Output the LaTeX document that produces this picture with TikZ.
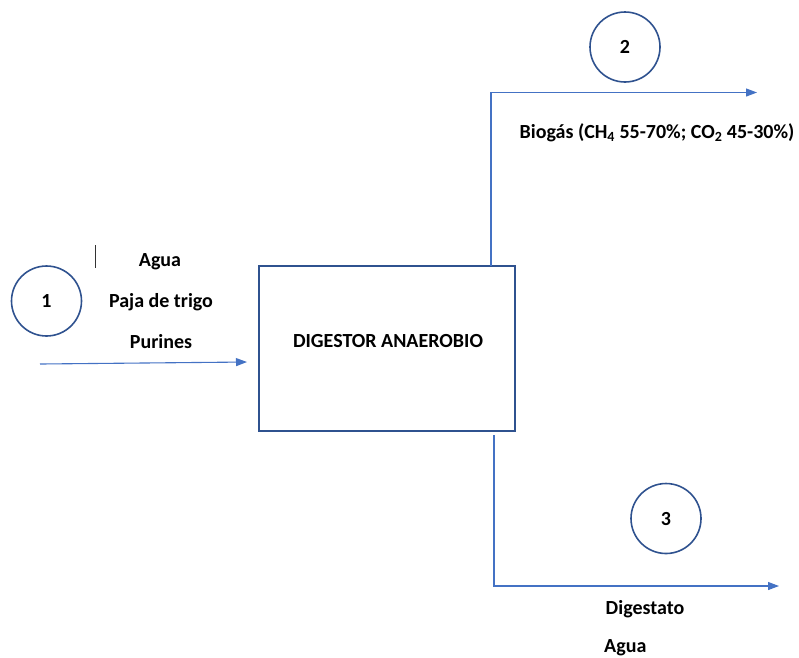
\documentclass[tikz,border=0pt]{standalone}
\usepackage{fontspec}
\setmainfont{Carlito}
\usetikzlibrary{arrows.meta}
\definecolor{dkblue}{HTML}{2F528F}
\definecolor{ltblue}{HTML}{4472C4}
\tikzset{
  numcirc/.style={circle,draw=dkblue,line width=1.6pt,minimum size=70pt,inner sep=0pt,font=\fontsize{20}{24}\selectfont\bfseries},
  lbl/.style={font=\fontsize{20}{24}\selectfont\bfseries,inner sep=0pt},
  flow/.style={draw=ltblue,line width=1.1pt,-{Triangle[length=11pt,width=8pt]}},
  procbox/.style={draw=dkblue,line width=1.6pt,inner sep=0pt}
}
\begin{document}
\begin{tikzpicture}[x=1pt,y=-1pt]
\useasboundingbox (0,0) rectangle (799,657);
\node[procbox,minimum width=256pt,minimum height=165pt] (box) at (387,348.5) {};
\node[lbl] (dig) at (388,341) {DIGESTOR ANAEROBIO};
\node[numcirc] (c1) at (46.5,301) {1};
\node[numcirc] (c2) at (625,47) {2};
\node[numcirc] (c3) at (666,518.5) {3};
\node[lbl] (agua1) at (160,262) {Agua};
\node[lbl] (paja) at (161,302) {Paja de trigo};
\node[lbl] (pur) at (161,342) {Purines};
\node[lbl] (bio) at (657,133) {Biogás (CH\textsubscript{4} 55-70\%; CO\textsubscript{2} 45-30\%)};
\node[lbl] (dgs) at (645,609) {Digestato};
\node[lbl,anchor=west] (agua2) at (604,648) {Agua};
\coordinate (tA) at (95,245);
\coordinate (tB) at (95,268);
\draw[line width=0.8pt,black!80] (tA) -- (tB);
\coordinate (i1) at (40,364);
\coordinate (i2) at (247,362);
\draw[flow] (i1) -- (i2);
\coordinate (o1s) at (491,266);
\coordinate (o1e) at (757,92.5);
\draw[flow] (o1s) |- (o1e);
\coordinate (o2s) at (494,435);
\coordinate (o2e) at (779,586);
\draw[flow] (o2s) |- (o2e);
\end{tikzpicture}
\end{document}
